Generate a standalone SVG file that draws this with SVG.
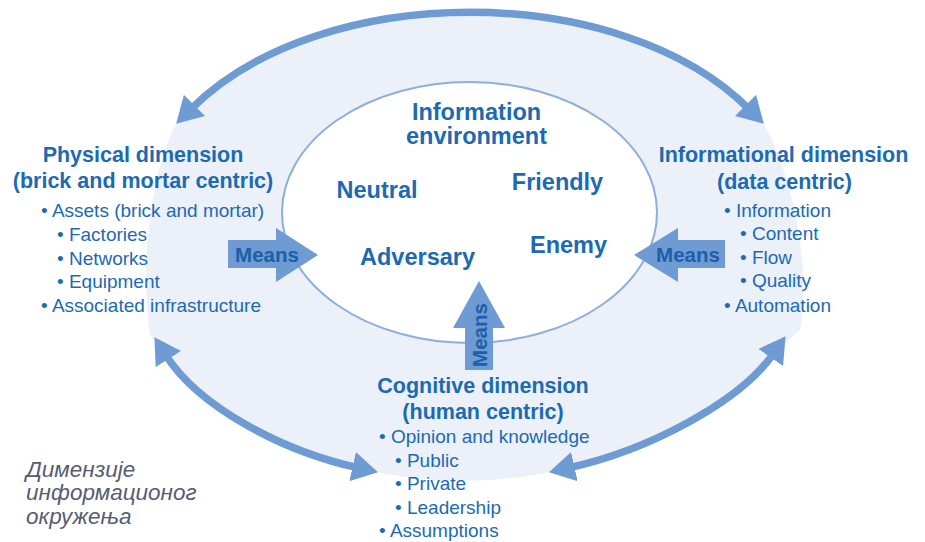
<svg xmlns="http://www.w3.org/2000/svg" width="925" height="542" viewBox="0 0 925 542">
  <style>
    text { font-family: "Liberation Sans", Arial, sans-serif; fill: #1c6ab3; }
    .h { font-size: 21.5px; font-weight: bold; text-anchor: middle; }
    .w { font-size: 23.5px; font-weight: bold; text-anchor: middle; }
    .b { font-size: 19px; }
    .m { font-size: 20.5px; font-weight: bold; text-anchor: middle; fill: #1d5fa8; }
    .note { font-size: 22.5px; font-style: italic; fill: #565c74; }
    .arc { fill: none; stroke: #6e9bd3; stroke-width: 7.5; marker-start: url(#ah); marker-end: url(#ah); }
    .blk { fill: #6e9bd3; }
  </style>
  <defs>
    <marker id="ah" viewBox="0 0 26 30" refX="5" refY="15" markerWidth="26" markerHeight="30" markerUnits="userSpaceOnUse" orient="auto-start-reverse">
      <path d="M0,0 L26,15 L0,30 Z" fill="#6e9bd3"/>
    </marker>
  </defs>
  <rect width="925" height="542" fill="#ffffff"/>

  <g id="outer-field">
    <path d="M191,109 C320,-20 620,-20 749,109 L763,123 C790,170 812,260 800,330 L773.6,353.4 C739.5,402.7 647.6,450.3 569.5,467.7 Q463,494 357.5,467.7 C279.4,450.3 197.9,405.5 165.7,354.9 L150,335 C140,270 150,170 177,123 Z" fill="#ebf0f9"/>
  </g>

  <g id="information-environment">
    <ellipse cx="469.5" cy="212.5" rx="187.5" ry="130.5" fill="#ffffff" stroke="#8eaedb" stroke-width="2"/>
    <text class="w" x="476.5" y="120">Information</text>
    <text class="w" x="476.5" y="144">environment</text>
    <text class="w" x="377" y="198">Neutral</text>
    <text class="w" x="557.5" y="190">Friendly</text>
    <text class="w" x="417.5" y="265">Adversary</text>
    <text class="w" x="568.5" y="253">Enemy</text>
  </g>

  <g id="connectors">
    <path class="arc" d="M191,109 C320,-20 620,-20 749,109"/>
    <path class="arc" d="M165.7,354.9 C197.9,405.5 279.4,450.3 357.5,467.7"/>
    <path class="arc" d="M569.5,467.7 C647.6,450.3 739.5,402.7 773.6,353.4"/>
    <g id="means-physical">
      <path class="blk" d="M228,240 L276,240 L276,228 L318,255 L276,282 L276,268 L228,268 Z"/>
      <text class="m" x="267" y="262">Means</text>
    </g>
    <g id="means-informational">
      <path class="blk" d="M725,240 L678,240 L678,228 L634,255 L678,282 L678,268 L725,268 Z"/>
      <text class="m" x="688" y="262">Means</text>
    </g>
    <g id="means-cognitive">
      <path class="blk" d="M465,370 L465,328 L453,328 L479,281 L505,328 L493,328 L493,370 Z"/>
      <text class="m" transform="translate(486.5,335) rotate(-90)">Means</text>
    </g>
  </g>

  <g id="physical-dimension">
    <text class="h" x="143" y="162">Physical dimension</text>
    <text class="h" x="143" y="188">(brick and mortar centric)</text>
    <text class="b" x="41" y="217">• Assets (brick and mortar)</text>
    <text class="b" x="57" y="241">• Factories</text>
    <text class="b" x="57" y="265">• Networks</text>
    <text class="b" x="57" y="288">• Equipment</text>
    <text class="b" x="41" y="312">• Associated infrastructure</text>
  </g>

  <g id="informational-dimension">
    <text class="h" x="783.5" y="162">Informational dimension</text>
    <text class="h" x="784.5" y="189">(data centric)</text>
    <text class="b" x="724" y="217">• Information</text>
    <text class="b" x="740" y="240">• Content</text>
    <text class="b" x="740" y="264">• Flow</text>
    <text class="b" x="740" y="287">• Quality</text>
    <text class="b" x="724" y="312">• Automation</text>
  </g>

  <g id="cognitive-dimension">
    <text class="h" x="483" y="393">Cognitive dimension</text>
    <text class="h" x="483" y="419">(human centric)</text>
    <text class="b" x="379" y="443">• Opinion and knowledge</text>
    <text class="b" x="395" y="467">• Public</text>
    <text class="b" x="395" y="490">• Private</text>
    <text class="b" x="395" y="514">• Leadership</text>
    <text class="b" x="379" y="537">• Assumptions</text>
  </g>

  <g id="caption">
    <text class="note" x="26" y="477">Димензије</text>
    <text class="note" x="26" y="500">информационог</text>
    <text class="note" x="26" y="524">окружења</text>
  </g>
</svg>
